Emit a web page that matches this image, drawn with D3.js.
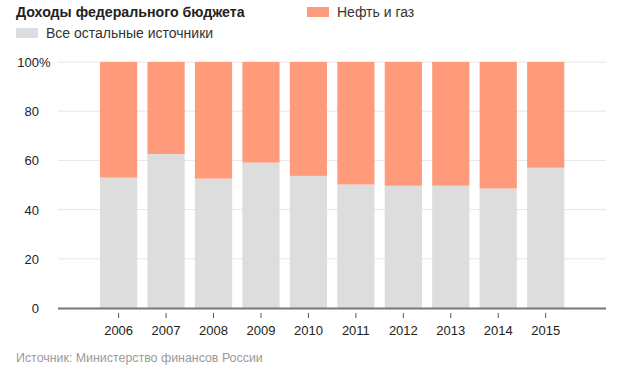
<!DOCTYPE html>
<html>
<head>
<meta charset="utf-8">
<title>Доходы федерального бюджета</title>
<script src="https://cdn.jsdelivr.net/npm/d3@7"></script>
<style>
body { margin: 0; background: #fff; }
svg text { font-family: Arial, "Liberation Sans", sans-serif; }
</style>
</head>
<body>
<svg width="638" height="390" id="chart"></svg>
<script>
var years = ["2006", "2007", "2008", "2009", "2010", "2011", "2012", "2013", "2014", "2015"];
var otherShare = [53.0, 62.6, 52.6, 59.1, 53.7, 50.2, 49.7, 49.7, 48.6, 57.0];
var oilGasShare = otherShare.map(function(v) { return 100 - v; });
var yTicks = [0, 20, 40, 60, 80, 100];

var colors = { oil: "#ff9b7a", other: "#dddddd" };

var svg = d3.select("#chart");

// title + legend
svg.append("text").attr("x", 16).attr("y", 17)
	.attr("font-size", 14.2).attr("font-weight", "bold").attr("fill", "#222")
	.text("Доходы федерального бюджета");

var legend = [
	{ label: "Нефть и газ", color: colors.oil, x: 307, y: 7 },
	{ label: "Все остальные источники", color: colors.other, x: 16, y: 28 }
];
legend.forEach(function(l) {
	svg.append("rect").attr("x", l.x).attr("y", l.y).attr("width", 22).attr("height", 10).attr("fill", l.color);
	svg.append("text").attr("x", l.x + 30).attr("y", l.y + 10)
		.attr("font-size", 14).attr("fill", "#333").text(l.label);
});

var x = d3.scaleBand().domain(years).range([100, 564.3]).paddingInner(0.216).paddingOuter(0);
var y = d3.scaleLinear().domain([0, 100]).range([308, 62]);

// grid
svg.append("g").selectAll("line").data(yTicks.filter(function(d) { return d > 0; })).enter()
	.append("line")
	.attr("x1", 58).attr("x2", 606)
	.attr("y1", function(d) { return y(d); }).attr("y2", function(d) { return y(d); })
	.attr("stroke", "#e6e6e6").attr("stroke-width", 1);

// y labels
var yl = svg.append("g").attr("font-size", 13).attr("fill", "#222");
yl.selectAll("text").data(yTicks).enter().append("text")
	.attr("x", 39).attr("y", function(d) { return y(d) + 5; })
	.attr("text-anchor", "end").text(function(d) { return d; });
yl.append("text").attr("x", 39).attr("y", y(100) + 5).text("%");

// bars
var bars = svg.append("g");
bars.selectAll(".other").data(years).enter().append("rect")
	.attr("x", function(d) { return x(d); })
	.attr("width", x.bandwidth())
	.attr("y", function(d, i) { return y(otherShare[i]); })
	.attr("height", function(d, i) { return y(0) - y(otherShare[i]); })
	.attr("fill", colors.other);
bars.selectAll(".oil").data(years).enter().append("rect")
	.attr("x", function(d) { return x(d); })
	.attr("width", x.bandwidth())
	.attr("y", function(d, i) { return y(otherShare[i] + oilGasShare[i]); })
	.attr("height", function(d, i) { return y(otherShare[i]) - y(otherShare[i] + oilGasShare[i]); })
	.attr("fill", colors.oil);

// x axis
var xAxis = svg.append("g").attr("transform", "translate(0,309)")
	.call(d3.axisBottom(x).tickSize(5).tickPadding(12));
xAxis.select(".domain").remove();
xAxis.selectAll(".tick line").attr("stroke", "#555").attr("transform", "translate(0,4)");
xAxis.selectAll(".tick text").attr("font-size", 13).attr("fill", "#222")
	.attr("font-family", "Arial, 'Liberation Sans', sans-serif");
svg.append("line").attr("x1", 58).attr("x2", 606).attr("y1", 308.5).attr("y2", 308.5)
	.attr("stroke", "#777").attr("stroke-width", 2);

// source
svg.append("text").attr("x", 16).attr("y", 362)
	.attr("font-size", 12.4).attr("fill", "#9a9a9a")
	.text("Источник: Министерство финансов России");
</script>
</body>
</html>
